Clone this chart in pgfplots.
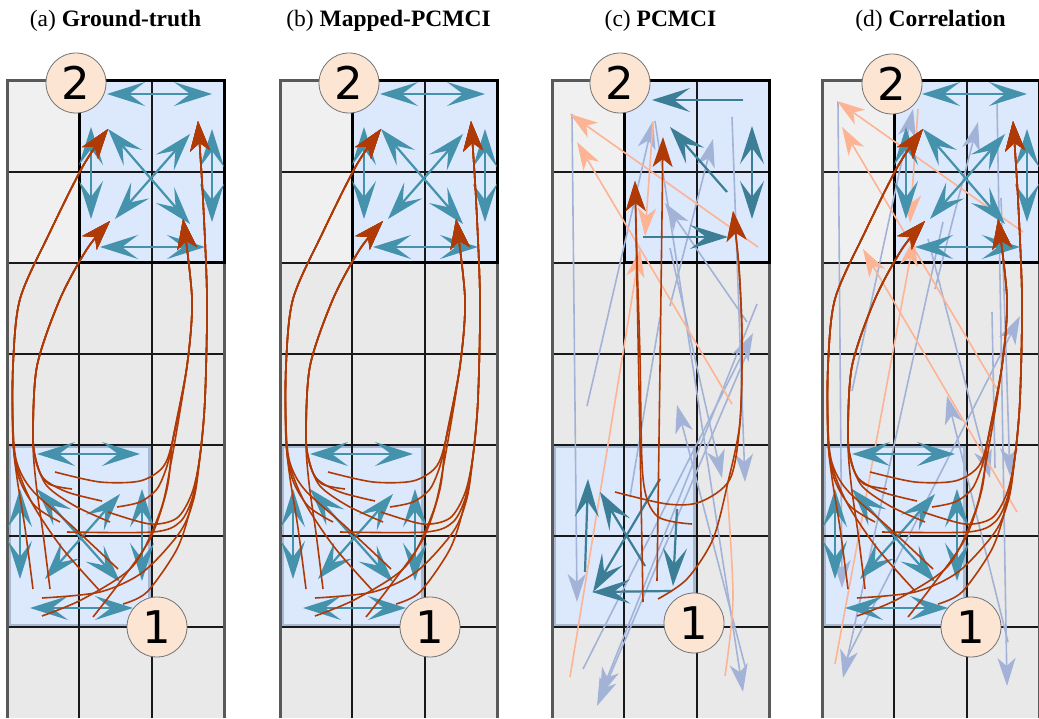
\documentclass[border=0pt]{standalone}
\usepackage{fontspec}
\setmainfont{Liberation Serif}
\newfontfamily\numfont{DejaVu Sans}
\usepackage{pgfplots}
\pgfplotsset{compat=1.18}
\usetikzlibrary{arrows.meta}

\definecolor{cellgray}{HTML}{E9E9E9}
\definecolor{celllight}{HTML}{F0F0F0}
\definecolor{regblue}{HTML}{DCE8FC}
\definecolor{reg1line}{HTML}{A9B9D2}
\definecolor{tealA}{HTML}{4492AC}
\definecolor{tealC}{HTML}{3B7E95}
\definecolor{brownA}{HTML}{B03A06}
\definecolor{lorange}{HTML}{FDB494}
\definecolor{lblue}{HTML}{A3B3D7}
\definecolor{peach}{HTML}{FDE5D3}

\pgfplotsset{
 panel/.style={anchor=south west, width=108.5pt, height=318.5pt, scale only axis,
   xmin=0, xmax=217, ymin=0, ymax=637, axis lines=none, ticks=none, clip=false,
   title style={at={(0.5,1)}, anchor=base, yshift=21pt, font=\fontsize{11.75}{14}\selectfont}},
 gridline/.style={black!90, line width=1pt},
 outerline/.style={black!65, line width=1.5pt},
 tealdbl/.style={tealA, line width=1.1pt, {Stealth[length=19pt,width=12pt,inset=8pt]}-{Stealth[length=19pt,width=12pt,inset=8pt]}},
 tealone/.style={tealC, line width=1.1pt, -{Stealth[length=19pt,width=12pt,inset=8pt]}},
 tealdblC/.style={tealC, line width=1.1pt, {Stealth[length=19pt,width=12pt,inset=8pt]}-{Stealth[length=19pt,width=12pt,inset=8pt]}},
 brownarr/.style={brownA, line width=0.8pt, smooth, -{Stealth[length=15pt,width=10pt,inset=4pt]}},
 brownline/.style={brownA, line width=0.8pt, smooth},
 orarr/.style={lorange, line width=0.8pt, -{Stealth[length=14pt,width=9pt,inset=4pt]}},
 orline/.style={lorange, line width=0.8pt, smooth},
 bluearr/.style={lblue, line width=0.8pt, -{Stealth[length=14pt,width=9pt,inset=4pt]}},
 blueline/.style={lblue, line width=0.8pt},
 bubble/.style={only marks, mark=*, mark size=15pt,
   mark options={fill=peach, draw=black!55, line width=0.4pt},
   every node near coord/.append style={anchor=center, font=\numfont\fontsize{22.5}{22.5}\selectfont}},
}

\newcommand{\gridcells}{%
\addplot[fill=cellgray, draw=none] coordinates {(0,0) (217,0) (217,637) (0,637)} --cycle;
\addplot[fill=celllight, draw=none] coordinates {(0,455) (72.3,455) (72.3,637) (0,637)} --cycle;
\addplot[fill=regblue, draw=none] coordinates {(72.3,455) (217,455) (217,637) (72.3,637)} --cycle;
\addplot[fill=regblue, draw=none] coordinates {(0,91) (144.7,91) (144.7,273) (0,273)} --cycle;
\addplot[reg1line, line width=1.5pt] coordinates {(2,93) (142.7,93) (142.7,271) (2,271)} --cycle;
\addplot[gridline] coordinates {(72.3,0) (72.3,637)};
\addplot[gridline] coordinates {(144.7,0) (144.7,637)};
\addplot[gridline] coordinates {(0,91) (217,91)};
\addplot[gridline] coordinates {(0,182) (217,182)};
\addplot[gridline] coordinates {(0,273) (217,273)};
\addplot[gridline] coordinates {(0,364) (217,364)};
\addplot[gridline] coordinates {(0,455) (217,455)};
\addplot[gridline] coordinates {(0,546) (217,546)};
\addplot[outerline] coordinates {(0,0) (0,637) (217,637) (217,0)};
\addplot[black, line width=1.5pt] coordinates {(72.3,455) (217,455) (217,637) (72.3,637)} --cycle;
}

\newcommand{\gtteal}{%
\addplot[tealdbl] coordinates {(100,624) (205,624)};
\addplot[tealdbl] coordinates {(84,591) (84,499)};
\addplot[tealdbl] coordinates {(205,589) (205,496)};
\addplot[tealdbl] coordinates {(101,589) (183,494)};
\addplot[tealdbl] coordinates {(183,584) (108,499)};
\addplot[tealdbl] coordinates {(93,471) (198,471)};
\addplot[tealdbl] coordinates {(30,264) (133,264)};
\addplot[tealdbl] coordinates {(13,229) (13,139)};
\addplot[tealdbl] coordinates {(135,229) (135,137)};
\addplot[tealdbl] coordinates {(113,224) (38,139)};
\addplot[tealdbl] coordinates {(30,229) (113,136)};
\addplot[tealdbl] coordinates {(23,110) (126,110)};
}

\newcommand{\gtbrown}{%
% into target A
\addplot[brownarr] coordinates {(26,129) (18,190) (10,240) (6,279) (6,352) (13,419) (43,486) (76,552) (101,589)};
\addplot[brownarr] coordinates {(53,196) (28,212) (12,240) (6,279) (6,352) (13,419) (43,486) (76,552) (101,589)};
\addplot[brownarr] coordinates {(111,149) (65,192) (25,228) (10,255) (6,290) (6,352) (13,419) (43,486) (76,552) (101,589)};
\addplot[brownarr] coordinates {(93,127) (55,170) (25,215) (9,255) (6,290) (6,352) (13,419) (43,486) (76,552) (101,589)};
% into target B
\addplot[brownarr] coordinates {(43,129) (36,185) (29,235) (26,279) (30,352) (53,419) (80,469) (103,497)};
\addplot[brownarr] coordinates {(65,229) (42,234) (31,250) (26,279) (30,352) (53,419) (80,469) (103,497)};
\addplot[brownarr] coordinates {(95,217) (60,226) (36,240) (28,262) (26,286) (30,352) (53,419) (80,469) (103,497)};
\addplot[brownarr] coordinates {(103,196) (68,212) (40,232) (29,258) (26,286) (30,352) (53,419) (80,469) (103,497)};
% into target C
\addplot[brownarr] coordinates {(60,186) (146,186) (173,196) (186,222) (193,262) (198,319) (200,419) (196,519) (191,597)};
\addplot[brownarr] coordinates {(101,206) (143,194) (170,200) (185,225) (193,262) (198,319) (200,419) (196,519) (191,597)};
\addplot[brownarr] coordinates {(35,120) (93,126) (136,146) (173,186) (187,220) (193,262) (198,319) (200,419) (196,519) (191,597)};
\addplot[brownarr] coordinates {(116,114) (140,126) (170,169) (184,212) (193,262) (198,319) (200,419) (196,519) (191,597)};
% into target D
\addplot[brownarr] coordinates {(48,246) (93,236) (133,237) (156,251) (166,279) (180,352) (185,419) (176,499)};
\addplot[brownarr] coordinates {(110,211) (133,216) (150,229) (160,252) (166,279) (180,352) (185,419) (176,499)};
\addplot[brownarr] coordinates {(86,101) (110,132) (143,179) (160,229) (166,279) (180,352) (185,419) (176,499)};
\addplot[brownarr] coordinates {(35,102) (76,119) (126,152) (153,206) (164,255) (180,352) (185,419) (176,499)};
}

\begin{document}
\begin{tikzpicture}
\path[use as bounding box] (0,0) rectangle (519.5pt,359pt);

% (a)
\begin{axis}[panel, at={(3.5pt,0pt)}, title={(a) \textbf{Ground-truth}}]
\gridcells
\gtteal
\gtbrown
\addplot[bubble, nodes near coords={2}] coordinates {(69,635)};
\addplot[bubble, nodes near coords={1}] coordinates {(150,91)};
\end{axis}

% (b)
\begin{axis}[panel, at={(140pt,0pt)}, title={(b) \textbf{Mapped-PCMCI}}]
\gridcells
\gtteal
\gtbrown
\addplot[bubble, nodes near coords={2}] coordinates {(69,635)};
\addplot[bubble, nodes near coords={1}] coordinates {(150,91)};
\end{axis}

% (c)
\begin{axis}[panel, at={(276pt,0pt)}, title={(c) \textbf{PCMCI}}]
\gridcells
% light blue false links
\addplot[bluearr] coordinates {(20,604) (25,116)};
\addplot[bluearr] coordinates {(35,312) (101,597)};
\addplot[bluearr] coordinates {(118,412) (161,579)};
\addplot[bluearr] coordinates {(180,601) (193,236)};
\addplot[bluearr] coordinates {(195,396) (113,515)};
\addplot[bluearr] coordinates {(31,49) (201,385)};
\addplot[bluearr] coordinates {(205,414) (48,22)};
\addplot[bluearr] coordinates {(198,372) (45,12)};
\addplot[bluearr] coordinates {(193,52) (125,313)};
\addplot[bluearr] coordinates {(103,597) (191,26)};
\addplot[blueline] coordinates {(78,221) (108,401)};
\addplot[bluearr] coordinates {(118,470) (170,240)};
% light orange
\addplot[orarr] coordinates {(206,471) (18,604)};
\addplot[orarr] coordinates {(180,314) (25,576)};
\addplot[orarr] coordinates {(101,596) (93,482)};
\addplot[orarr] coordinates {(18,41) (88,469)};
\addplot[orline] coordinates {(173,42) (181,120) (175,230)};
% teal
\addplot[tealone] coordinates {(191,618) (100,618)};
\addplot[tealdblC] coordinates {(200,592) (200,499)};
\addplot[tealone] coordinates {(175,526) (118,591)};
\addplot[tealone] coordinates {(91,481) (176,481)};
\addplot[tealone] coordinates {(33,146) (36,239)};
\addplot[tealone] coordinates {(93,152) (48,226)};
\addplot[tealone] coordinates {(108,239) (41,126)};
\addplot[tealone] coordinates {(125,209) (121,132)};
\addplot[tealone] coordinates {(120,127) (40,126)};
% brown
\addplot[brownarr] coordinates {(105,137) (108,350) (111,581)};
\addplot[brownarr] coordinates {(91,116) (87,330) (83,537)};
\addplot[brownarr] coordinates {(140,194) (105,202) (91,240) (88,362) (85,460) (83,537)};
\addplot[brownarr] coordinates {(63,226) (115,214) (148,216) (178,239) (188,296) (190,379) (187,450) (181,507)};
\addplot[brownarr] coordinates {(106,119) (135,139) (161,179) (176,236) (188,296) (190,379) (187,450) (181,507)};
\addplot[bubble, nodes near coords={2}] coordinates {(68,635)};
\addplot[bubble, nodes near coords={1}] coordinates {(142,95)};
\end{axis}

% (d)
\begin{axis}[panel, at={(411pt,0pt)}, title={(d) \textbf{Correlation}}]
\gridcells
\addplot[bluearr] coordinates {(16,616) (20,130)};
\addplot[bluearr] coordinates {(121,496) (21,40)};
\addplot[bluearr] coordinates {(30,327) (91,609)};
\addplot[bluearr] coordinates {(113,429) (156,596)};
\addplot[bluearr] coordinates {(175,616) (185,32)};
\addplot[bluearr] coordinates {(23,56) (198,402)};
\addplot[bluearr] coordinates {(186,76) (125,322)};
\addplot[bluearr] coordinates {(106,479) (168,240)};
\addplot[bluearr] coordinates {(179,520) (188,242)};
\addplot[blueline] coordinates {(170,406) (173,250)};
\addplot[orarr] coordinates {(201,486) (15,617)};
\addplot[orarr] coordinates {(175,329) (20,591)};
\addplot[orarr] coordinates {(195,206) (41,469)};
\addplot[orarr] coordinates {(96,609) (88,495)};
\addplot[orarr] coordinates {(13,54) (92,480)};
\gtteal
\gtbrown
\addplot[bubble, nodes near coords={2}] coordinates {(70,634)};
\addplot[bubble, nodes near coords={1}] coordinates {(149,91)};
\end{axis}
\end{tikzpicture}
\end{document}
